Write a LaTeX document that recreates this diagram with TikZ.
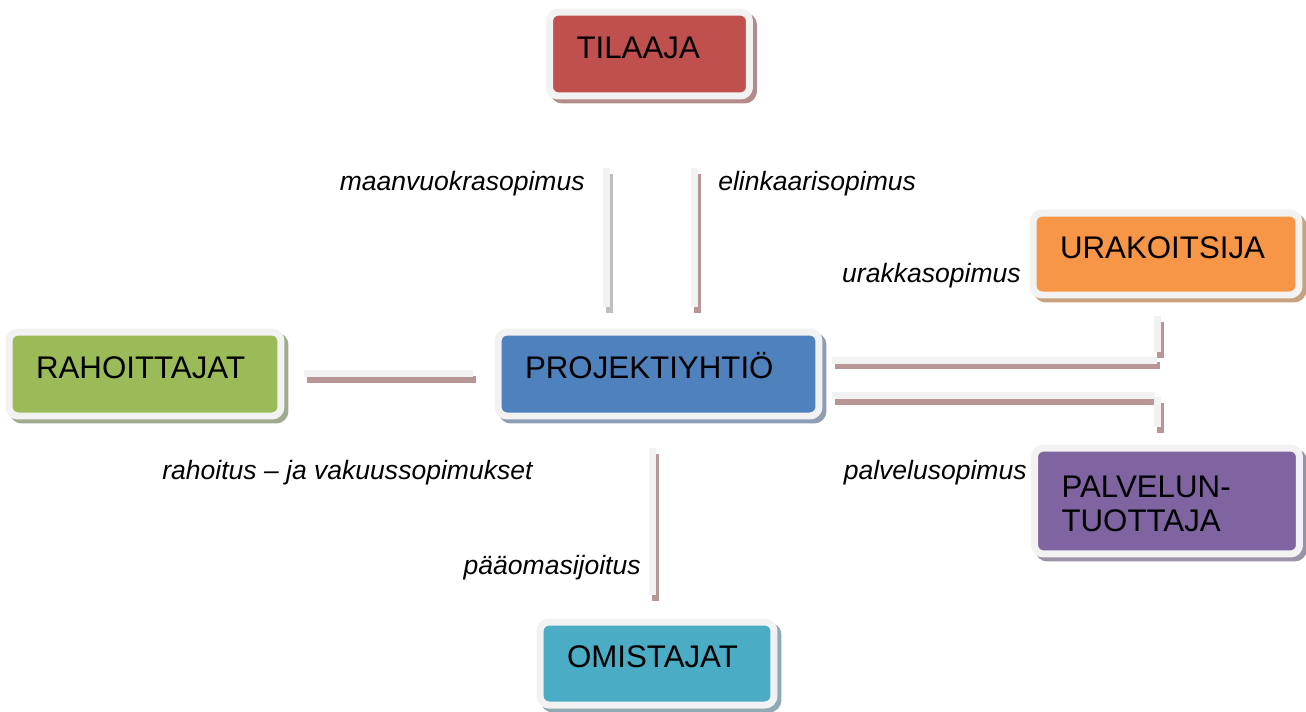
\documentclass[tikz,border=0pt]{standalone}
\usepackage{fontspec}
\setmainfont{Liberation Sans}
\usepackage{tikz}
\usetikzlibrary{calc}

\definecolor{rim}{HTML}{F2F2F2}
\definecolor{linepink}{HTML}{B89696}
\definecolor{linegray}{HTML}{BFBFBF}
\definecolor{tilaajafill}{HTML}{C0504D}
\definecolor{tilaajashade}{HTML}{B48A8A}
\definecolor{rahoitfill}{HTML}{9BBB59}
\definecolor{rahoitshade}{HTML}{A0AA8C}
\definecolor{projfill}{HTML}{4F81BD}
\definecolor{projshade}{HTML}{8E9DB3}
\definecolor{urakfill}{HTML}{F79646}
\definecolor{urakshade}{HTML}{C8A27F}
\definecolor{palvfill}{HTML}{8064A2}
\definecolor{palvshade}{HTML}{9C92A8}
\definecolor{omisfill}{HTML}{4BACC6}
\definecolor{omisshade}{HTML}{8FA9B5}

\tikzset{
  osapuoli/.style 2 args={draw=rim, line width=0.14cm, fill=#1, rounded corners=0.18cm,
    preaction={draw=#2, fill=#2, transform canvas={shift={(0.08cm,-0.08cm)}}},
    align=left, inner xsep=0.54cm, inner ysep=0pt, minimum height=1.68cm,
    text height=0.446cm, text depth=0.28cm, font=\fontsize{17.8}{19.9}\selectfont},
  sopimus/.style={draw=rim, line width=0.14cm,
    preaction={draw=#1, line width=0.14cm, transform canvas={shift={(0.06cm,-0.11cm)}}}},
  sopimus/.default=linepink,
  nimi/.style={inner sep=0pt, font=\fontsize{15.1}{18}\selectfont\itshape},
}

\begin{document}
\begin{tikzpicture}[x=0.02cm, y=-0.02cm]
	\useasboundingbox (0,0) rectangle (1306,711);

	% osapuolet
	\node[osapuoli={tilaajafill}{tilaajashade}, text width=2.92cm] (tilaaja) at (649.5,54) {TILAAJA};
	\node[osapuoli={rahoitfill}{rahoitshade}, text width=4.36cm] (rahoittajat) at (145,374) {RAHOITTAJAT};
	\node[osapuoli={projfill}{projshade}, text width=5.34cm] (projekti) at (658.5,374) {PROJEKTIYHTIÖ};
	\node[osapuoli={urakfill}{urakshade}, text width=4.24cm, minimum height=1.64cm] (urakoitsija) at (1166,254) {URAKOITSIJA};
	\node[osapuoli={palvfill}{palvshade}, text width=4.22cm, minimum height=2.12cm,
		text depth=0.606cm] (palveluntuottaja) at (1167,501) {PALVELUN-\\TUOTTAJA};
	\node[osapuoli={omisfill}{omisshade}, text width=3.6cm, minimum height=1.66cm] (omistajat) at (657,663.5) {OMISTAJAT};

	% sopimusviivat
	\coordinate (mv1) at (606,168);   \coordinate (mv2) at (606,307);
	\coordinate (ek1) at (694.5,168); \coordinate (ek2) at (694.5,307);
	\coordinate (rh1) at (304,373.5); \coordinate (rh2) at (473,373.5);
	\coordinate (ur1) at (832,360);   \coordinate (ur2) at (1157,360);
	\coordinate (ur3) at (1157.5,316); \coordinate (ur4) at (1157.5,352);
	\coordinate (pv1) at (832,395.5); \coordinate (pv2) at (1155,395.5);
	\coordinate (pv3) at (1157,397);  \coordinate (pv4) at (1157,427);
	\coordinate (po1) at (652,448);   \coordinate (po2) at (652,595);

	\draw[sopimus=linegray] (mv1) -- (mv2);
	\draw[sopimus] (ek1) -- (ek2);
	\draw[sopimus] (rh1) -- (rh2);
	\draw[sopimus] (ur1) -- (ur2);
	\draw[sopimus] (ur3) -- (ur4);
	\draw[sopimus] (pv1) -- (pv2);
	\draw[sopimus] (pv3) -- (pv4);
	\draw[sopimus] (po1) -- (po2);

	% sopimusten nimet
	\node[nimi, anchor=base east] (maanvuokra) at (585,190) {maanvuokrasopimus};
	\node[nimi, anchor=base west] (elinkaari) at (718,190) {elinkaarisopimus};
	\node[nimi, anchor=base east] (urakka) at (1021,282) {urakkasopimus};
	\node[nimi, anchor=base west] (rahoitus) at (162,479) {rahoitus – ja vakuussopimukset};
	\node[nimi, anchor=base east] (palvelu) at (1027,479) {palvelusopimus};
	\node[nimi, anchor=base east] (paaoma) at (641,574) {pääomasijoitus};
\end{tikzpicture}
\end{document}
